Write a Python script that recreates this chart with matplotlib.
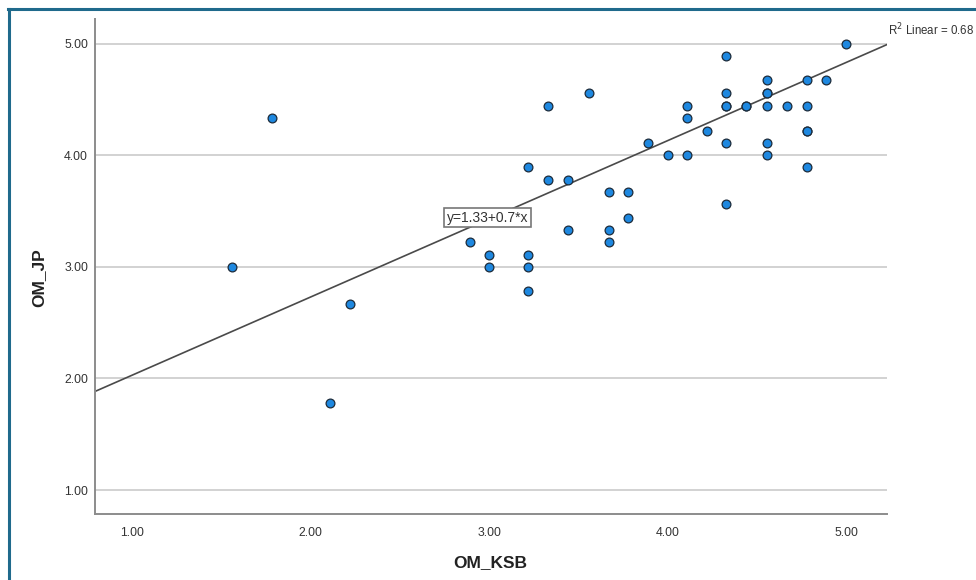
import matplotlib
matplotlib.use("Agg")
import matplotlib.pyplot as plt
from matplotlib.lines import Line2D

plt.rcParams['font.family'] = ['Liberation Sans', 'DejaVu Sans']

# Data (OM_KSB, OM_JP)
om_ksb = [1.56, 1.78, 2.22, 2.11, 2.89, 3.00, 3.00, 3.22, 3.22, 3.22, 3.22,
          3.33, 3.33, 3.44, 3.44, 3.56, 3.67, 3.67, 3.67, 3.78, 3.78, 3.89,
          4.00, 4.11, 4.11, 4.11, 4.22, 4.33, 4.33, 4.33, 4.33, 4.33, 4.33,
          4.44, 4.44, 4.56, 4.56, 4.56, 4.56, 4.56, 4.56, 4.67, 4.78, 4.78,
          4.78, 4.78, 4.78, 4.89, 5.00]
om_jp = [3.00, 4.33, 2.67, 1.78, 3.22, 3.11, 3.00, 3.89, 3.11, 3.00, 2.78,
         3.78, 4.44, 3.78, 3.33, 4.56, 3.67, 3.33, 3.22, 3.67, 3.44, 4.11,
         4.00, 4.44, 4.33, 4.00, 4.22, 4.89, 4.56, 4.44, 4.44, 4.11, 3.56,
         4.44, 4.44, 4.67, 4.56, 4.56, 4.44, 4.11, 4.00, 4.44, 4.67, 4.44,
         4.22, 4.22, 3.89, 4.67, 5.00]
intercept = 1.33
slope = 0.7
r2 = 0.68
x_ticks = [1.0, 2.0, 3.0, 4.0, 5.0]
y_ticks = [1.0, 2.0, 3.0, 4.0, 5.0]

W, H = 976, 580
fig = plt.figure(figsize=(W / 100, H / 100), dpi=100)
ax = fig.add_axes([95 / W, (H - 514) / H, (887 - 95) / W, (514 - 19) / H])

ax.set_xlim(0.79, 5.23)
ax.set_ylim(0.785, 5.22)

ax.set_yticks(y_ticks)
ax.set_xticks(x_ticks)
ax.set_xticklabels([f"{t:.2f}" for t in x_ticks])
ax.set_yticklabels([f"{t:.2f}" for t in y_ticks])
ax.grid(axis='y', color='#d2d2d2', linewidth=1.4, zorder=0)
ax.set_axisbelow(True)

for s in ['top', 'right']:
    ax.spines[s].set_visible(False)
for s in ['left', 'bottom']:
    ax.spines[s].set_color('#8c8c8c')
    ax.spines[s].set_linewidth(1.4)

ax.tick_params(axis='both', length=0, labelsize=8.8, colors='#333333')
ax.tick_params(axis='x', pad=9)
ax.tick_params(axis='y', pad=5)

ax.axline((0, intercept), slope=slope, color='#4a4a4a', linewidth=1.2, zorder=2)

ax.scatter(om_ksb, om_jp, s=40, c='#1e88e0', edgecolors='#1c2b3a',
           linewidths=0.9, zorder=3)

ax.text(2.99, 3.44, f"y={intercept}+{slope}*x", fontsize=10, color='#333333',
        ha='center', va='center', zorder=4,
        bbox=dict(boxstyle='square,pad=0.2', fc='white', ec='#777777', lw=1.2))

ax.set_xlabel('OM_KSB', fontsize=12.5, fontweight='bold', color='#222222')
ax.set_ylabel('OM_JP', fontsize=12.5, fontweight='bold', color='#222222')
ax.xaxis.set_label_coords((490 - 95) / 792, (514 - 563) / 495)
ax.yaxis.set_label_coords((39 - 95) / 792, (514 - 278) / 495)
ax.xaxis.label.set_va('center')
ax.yaxis.label.set_va('center')

fig.text(888 / W, (H - 30) / H, f"R$^2$ Linear = {r2}", fontsize=8.3,
         color='#333333', ha='left', va='center')

border = '#1f6a8c'
fig.add_artist(Line2D([8.5 / W, 8.5 / W], [0, (H - 9) / H], color=border,
                      linewidth=2.2, transform=fig.transFigure))
fig.add_artist(Line2D([7.5 / W, 1], [(H - 9) / H, (H - 9) / H], color=border,
                      linewidth=2.2, transform=fig.transFigure))

fig.savefig('out.png', dpi=100)
